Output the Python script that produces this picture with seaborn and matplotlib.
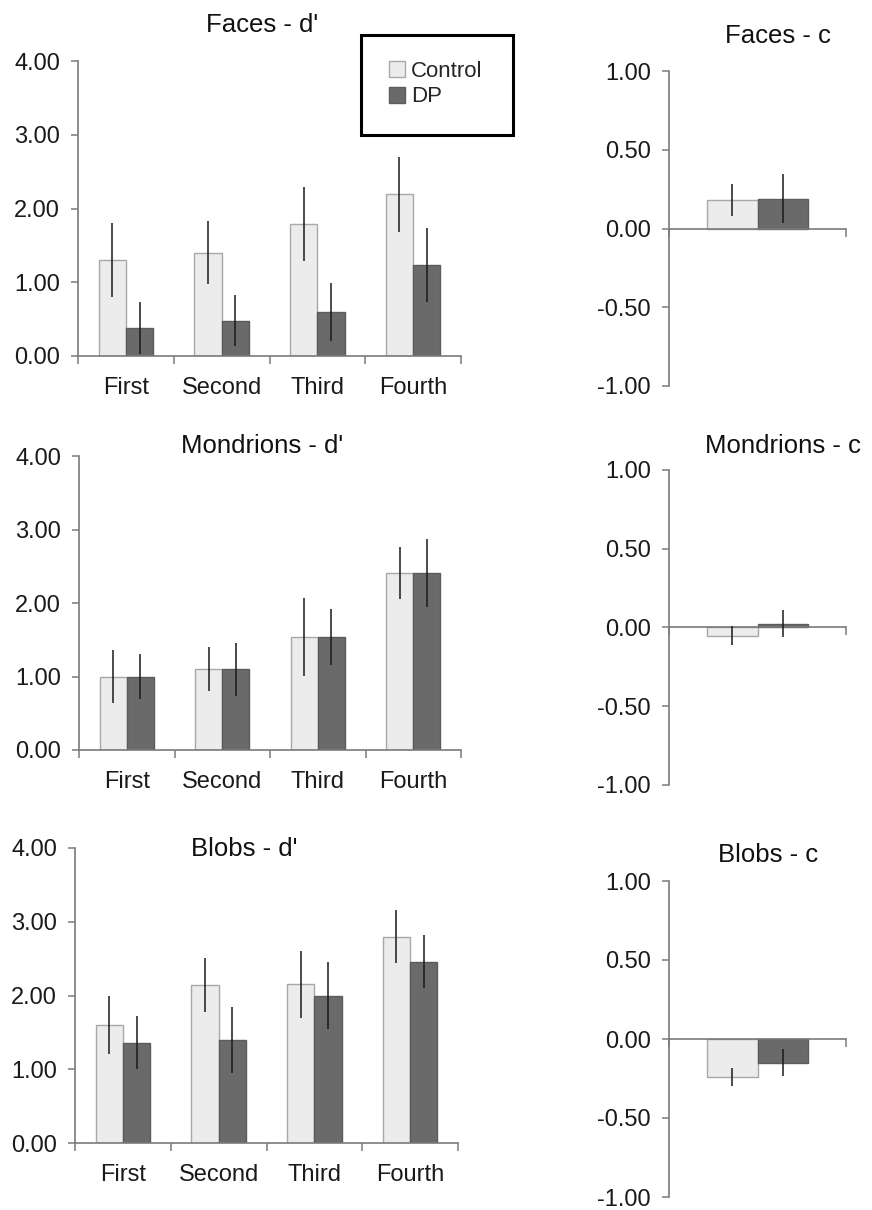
import numpy as np
import pandas as pd
import matplotlib
matplotlib.use("Agg")
import matplotlib.pyplot as plt
from matplotlib.patches import Patch, Rectangle
import seaborn as sns

# ---- data ----
phases = ["First", "Second", "Third", "Fourth"]
groups = ["Control", "DP"]

faces_d_ctrl = [1.30, 1.40, 1.79, 2.19]
faces_d_dp = [0.38, 0.48, 0.60, 1.23]
faces_d_ctrl_se = [0.50, 0.43, 0.50, 0.51]
faces_d_dp_se = [0.35, 0.35, 0.39, 0.50]

mond_d_ctrl = [1.00, 1.10, 1.54, 2.41]
mond_d_dp = [1.00, 1.10, 1.54, 2.41]
mond_d_ctrl_se = [0.36, 0.30, 0.53, 0.35]
mond_d_dp_se = [0.31, 0.36, 0.38, 0.46]

blobs_d_ctrl = [1.60, 2.14, 2.15, 2.80]
blobs_d_dp = [1.36, 1.40, 2.00, 2.46]
blobs_d_ctrl_se = [0.39, 0.37, 0.45, 0.36]
blobs_d_dp_se = [0.36, 0.45, 0.45, 0.36]

faces_c = [0.18, 0.19]
faces_c_se = [0.10, 0.155]
mond_c = [-0.053, 0.025]
mond_c_se = [0.06, 0.085]
blobs_c = [-0.24, -0.15]
blobs_c_se = [0.055, 0.085]

d_ticks = [0, 1, 2, 3, 4]
c_ticks = [-1.0, -0.5, 0.0, 0.5, 1.0]

FILL = {"Control": "#ececec", "DP": "#6a6a6a"}
EDGE = {"Control": "#a8a8a8", "DP": "#5c5c5c"}
AXC = "#7a7a7a"
W, H = 872, 1210

sns.set_style("white")
plt.rcParams["font.family"] = ["Liberation Sans", "DejaVu Sans"]

fig = plt.figure(figsize=(W / 100, H / 100), dpi=100)


def px_axes(x0, y0, x1, y1):
    return fig.add_axes([x0 / W, 1 - y1 / H, (x1 - x0) / W, (y1 - y0) / H])


def style_bars(ax, errs):
    for cont, g, se in zip(ax.containers, groups, errs):
        for bar, e in zip(cont, se):
            bar.set_facecolor(FILL[g])
            bar.set_edgecolor(EDGE[g])
            bar.set_linewidth(1.0)
            xc = bar.get_x() + bar.get_width() / 2
            yv = bar.get_y() + bar.get_height()
            ax.errorbar(xc, yv, yerr=e, fmt="none", ecolor="#1a1a1a",
                        elinewidth=1.1, capsize=0, zorder=5)


def base_axes(ax):
    sns.despine(ax=ax)
    for s in ("left", "bottom"):
        ax.spines[s].set_color(AXC)
        ax.spines[s].set_linewidth(1.2)
    ax.tick_params(axis="y", which="major", left=True, direction="out", length=5,
                   width=1.1, color=AXC, pad=8, labelsize=17, labelcolor="#1a1a1a")
    ax.set_xlabel("")
    ax.set_ylabel("")


def d_panel(rect, ctrl, dp, ctrl_se, dp_se):
    ax = px_axes(*rect)
    df = pd.DataFrame({
        "phase": phases * 2,
        "group": ["Control"] * 4 + ["DP"] * 4,
        "value": ctrl + dp,
    })
    sns.barplot(data=df, x="phase", y="value", hue="group", order=phases,
                hue_order=groups, palette=FILL, saturation=1, width=0.57,
                errorbar=None, legend=False, ax=ax)
    style_bars(ax, [ctrl_se, dp_se])
    base_axes(ax)
    ax.set_xlim(-0.5, len(phases) - 0.5)
    ax.set_ylim(0, 4)
    ax.set_yticks(d_ticks, [f"{v:.2f}" for v in d_ticks])
    ax.set_xticks(np.arange(len(phases) + 1) - 0.5, [""] * (len(phases) + 1))
    ax.set_xticks(range(len(phases)), phases, minor=True)
    ax.tick_params(axis="x", which="major", bottom=True, direction="out",
                   length=6, width=1.1, color=AXC)
    ax.tick_params(axis="x", which="minor", bottom=True, length=0, pad=15,
                   labelsize=17, labelcolor="#1a1a1a")
    return ax


def c_panel(rect, vals, se):
    ax = px_axes(*rect)
    df = pd.DataFrame({"cond": ["c", "c"], "group": groups, "value": vals})
    sns.barplot(data=df, x="cond", y="value", hue="group", hue_order=groups,
                palette=FILL, saturation=1, width=0.57, errorbar=None,
                legend=False, ax=ax)
    style_bars(ax, [[s] for s in se])
    base_axes(ax)
    ax.spines["bottom"].set_position(("data", 0))
    ax.set_xlim(-0.5, 0.5)
    ax.set_ylim(-1, 1)
    ax.set_yticks(c_ticks, [f"{v:.2f}" for v in c_ticks])
    ax.set_xticks([-0.5, 0.5], ["", ""])
    ax.tick_params(axis="x", bottom=True, direction="out", length=6,
                   width=1.1, color=AXC)
    return ax


def title(x, y, text):
    fig.text(x / W, 1 - y / H, text, ha="center", va="baseline",
             fontsize=18.5, color="#111111")


d_panel((78, 61, 461, 356), faces_d_ctrl, faces_d_dp, faces_d_ctrl_se, faces_d_dp_se)
d_panel((79, 456, 461, 750), mond_d_ctrl, mond_d_dp, mond_d_ctrl_se, mond_d_dp_se)
d_panel((75, 848, 458, 1143), blobs_d_ctrl, blobs_d_dp, blobs_d_ctrl_se, blobs_d_dp_se)
c_panel((669, 71, 846, 386), faces_c, faces_c_se)
c_panel((669, 470, 846, 785), mond_c, mond_c_se)
c_panel((669, 881, 846, 1197), blobs_c, blobs_c_se)

title(262, 32, "Faces - d'")
title(262, 453, "Mondrions - d'")
title(244, 856, "Blobs - d'")
title(778, 43, "Faces - c")
title(783, 453, "Mondrions - c")
title(768, 862, "Blobs - c")

# legend: boxed frame drawn separately, entries in its upper-left
fig.patches.append(Rectangle((361 / W, 1 - 135 / H), 152 / W, 100 / H,
                             transform=fig.transFigure, fill=False,
                             edgecolor="black", linewidth=2.2))
handles = [Patch(facecolor=FILL[g], edgecolor=EDGE[g], label=g) for g in groups]
fig.legend(handles=handles, loc="upper left", bbox_to_anchor=(389 / W, 1 - 61 / H),
           frameon=False, fontsize=16, handlelength=0.7, handleheight=0.75,
           handletextpad=0.3, labelspacing=0.2, borderpad=0, borderaxespad=0)

fig.savefig("out.png", dpi=100)
